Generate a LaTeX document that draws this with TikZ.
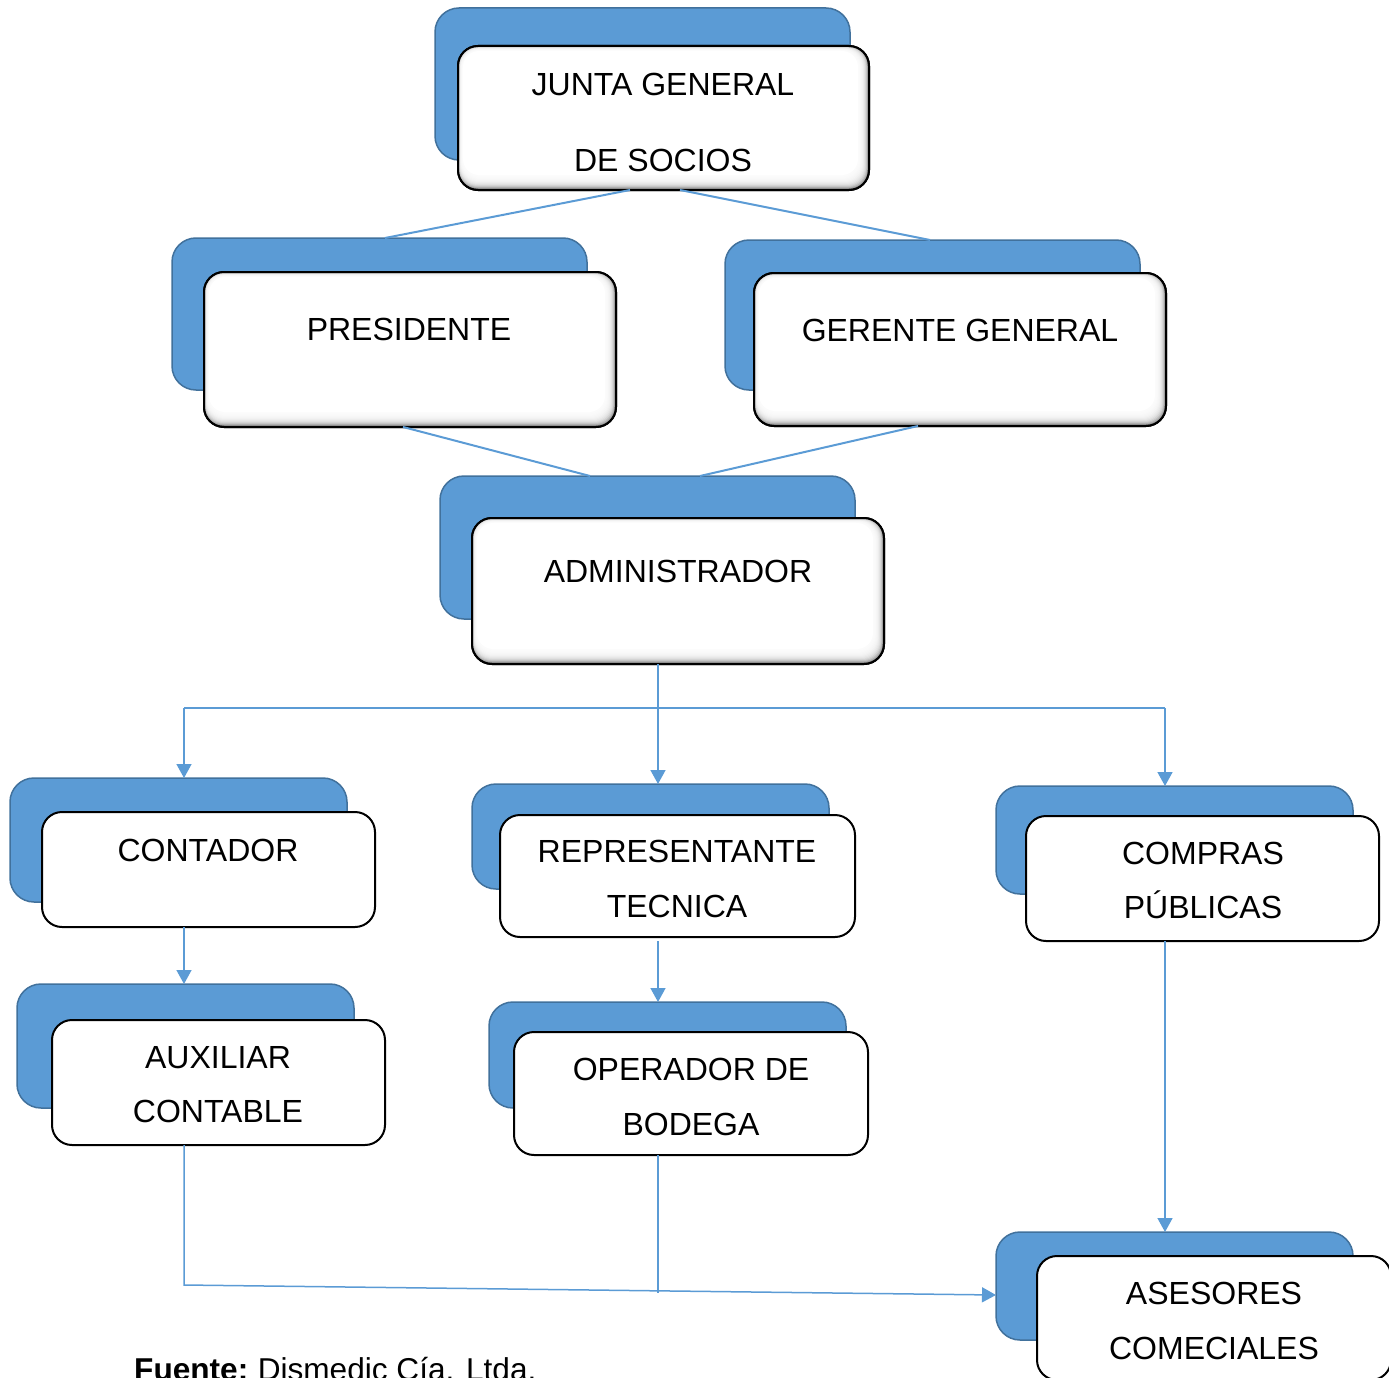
\documentclass[tikz,border=0pt]{standalone}
\usepackage{fontspec}
\setmainfont{Liberation Sans}
\usetikzlibrary{arrows.meta}
\definecolor{boxblue}{HTML}{5B9BD5}
\definecolor{boxedge}{HTML}{41719C}
\definecolor{linkblue}{HTML}{5B9BD5}

% soft inner shadow for the upper-level boxes
\newcommand\innerglow[1]{%
  \foreach \i in {1,...,14}{%
    \fill[white, opacity=0.28, rounded corners=18pt]
      ([xshift={0.3pt*\i}, yshift={-0.3pt*\i}]#1.north west) rectangle
      ([xshift={-0.75pt*\i}, yshift={1.0pt*\i}]#1.south east);
  }%
  \fill[white, rounded corners=16pt]
    ([xshift=5pt, yshift=-5pt]#1.north west) rectangle
    ([xshift=-11pt, yshift=15pt]#1.south east);
  \draw[black, line width=2pt, rounded corners=20pt]
    (#1.north west) rectangle (#1.south east);
}

\begin{document}
\begin{tikzpicture}[x=1pt, y=-1pt,
  backbox/.style={draw=boxedge, fill=boxblue, line width=1.5pt, rounded corners=24pt, inner sep=0pt, outer sep=0pt},
  frontbox/.style={draw=black, line width=2pt, fill=white, rounded corners=20pt, inner sep=0pt, outer sep=0pt},
  glowbox/.style={frontbox, fill=black!62},
  lbl/.style={font=\fontsize{32pt}{38pt}\selectfont, text height=23pt, text depth=0pt, inner sep=0pt},
  link/.style={draw=linkblue, line width=2pt},
  thinlink/.style={draw=linkblue, line width=1.5pt},
  arr/.style={thinlink, -{Triangle[length=14pt,width=15pt]}},
]
\useasboundingbox (0,0) rectangle (1389,1378);

% ---- level 1
\node[backbox, minimum width=415pt, minimum height=152pt] (juntab) at (642.5,84) {};
\node[glowbox, minimum width=411pt, minimum height=144pt] (junta) at (663.5,118) {};
\innerglow{junta}
\node[lbl] (juntat1) at (663,84) {JUNTA GENERAL};
\node[lbl] (juntat2) at (663,160) {DE SOCIOS};

% ---- level 2
\node[backbox, minimum width=415pt, minimum height=152pt] (presb) at (379.5,314) {};
\node[glowbox, minimum width=412pt, minimum height=155pt] (pres) at (410,349.5) {};
\innerglow{pres}
\node[lbl] (prest) at (409,329) {PRESIDENTE};

\node[backbox, minimum width=415pt, minimum height=150pt] (gerb) at (932.5,315) {};
\node[glowbox, minimum width=412pt, minimum height=153pt] (ger) at (960,349.5) {};
\innerglow{ger}
\node[lbl] (gert) at (960,330) {GERENTE GENERAL};

% ---- level 3
\node[backbox, minimum width=415pt, minimum height=143pt] (adminb) at (647.5,547.5) {};
\node[glowbox, minimum width=412pt, minimum height=146pt] (admin) at (678,591) {};
\innerglow{admin}
\node[lbl] (admint) at (678,571) {ADMINISTRADOR};

% ---- level 4
\node[backbox, minimum width=337pt, minimum height=124pt] (contb) at (178.5,840) {};
\node[frontbox, minimum width=333pt, minimum height=115pt] (cont) at (208.5,869.5) {};
\node[lbl] (contt) at (208,850) {CONTADOR};

\node[backbox, minimum width=357pt, minimum height=105pt] (repb) at (650.5,836.5) {};
\node[frontbox, minimum width=355pt, minimum height=122pt] (rep) at (677.5,876) {};
\node[lbl] (rept1) at (677,851) {REPRESENTANTE};
\node[lbl] (rept2) at (677,906) {TECNICA};

\node[backbox, minimum width=357pt, minimum height=108pt] (compb) at (1174.5,840) {};
\node[frontbox, minimum width=353pt, minimum height=125pt] (comp) at (1202.5,878.5) {};
\node[lbl] (compt1) at (1203,853) {COMPRAS};
\node[lbl] (compt2) at (1203,907) {PÚBLICAS};

% ---- level 5
\node[backbox, minimum width=337pt, minimum height=124pt] (auxb) at (185.5,1046) {};
\node[frontbox, minimum width=333pt, minimum height=125pt] (aux) at (218.5,1082.5) {};
\node[lbl] (auxt1) at (218,1057) {AUXILIAR};
\node[lbl] (auxt2) at (218,1111) {CONTABLE};

\node[backbox, minimum width=357pt, minimum height=106pt] (operb) at (667.5,1055) {};
\node[frontbox, minimum width=354pt, minimum height=123pt] (oper) at (691,1093.5) {};
\node[lbl] (opert1) at (691,1069) {OPERADOR DE};
\node[lbl] (opert2) at (691,1124) {BODEGA};

\node[backbox, minimum width=357pt, minimum height=108pt] (asesb) at (1174.5,1286) {};
\node[frontbox, minimum width=354pt, minimum height=124pt] (ases) at (1214,1318) {};
\node[lbl] (asest1) at (1214,1293) {ASESORES};
\node[lbl] (asest2) at (1214,1348) {COMECIALES};

% ---- connectors
\draw[link] ([xshift=-33.5pt]junta.south) -- ([xshift=5.5pt]presb.north);
\draw[link] ([xshift=16.5pt]junta.south) -- ([xshift=-2.5pt]gerb.north);
\draw[link] ([xshift=-7pt]pres.south) -- ([xshift=-57.5pt]adminb.north);
\draw[link] ([xshift=-42pt]ger.south) -- ([xshift=52.5pt]adminb.north);

\coordinate (busL) at (184,708);
\coordinate (busR) at (1165,708);
\draw[thinlink] (busL) -- (busR);
\draw[arr] ([xshift=-20pt]admin.south) -- ([xshift=7.5pt]repb.north);
\draw[arr] (busL) -- ([xshift=5.5pt]contb.north);
\draw[arr] (busR) -- ([xshift=-9.5pt]compb.north);

\draw[arr] ([xshift=-24.5pt]cont.south) -- ([xshift=-1.5pt]auxb.north);
\draw[arr] ([xshift=-19.5pt, yshift=-4pt]rep.south) -- ([xshift=-9.5pt]operb.north);
\draw[arr] ([xshift=-37.5pt]comp.south) -- ([xshift=-9.5pt]asesb.north);

\coordinate (auxcorner) at (184,1285);
\draw[arr] ([xshift=-34.5pt]aux.south) -- (auxcorner) -- ([yshift=-9pt]asesb.west);
\coordinate (operend) at (658,1293);
\draw[thinlink] ([xshift=-33pt]oper.south) -- (operend);

% ---- source line
\node[font=\fontsize{31.6pt}{38pt}\selectfont, anchor=base west, inner sep=0pt] (fuente)
  at (134,1380) {\textbf{Fuente:}\hspace{0.3em}Dismedic Cía. Ltda.};
\end{tikzpicture}
\end{document}
